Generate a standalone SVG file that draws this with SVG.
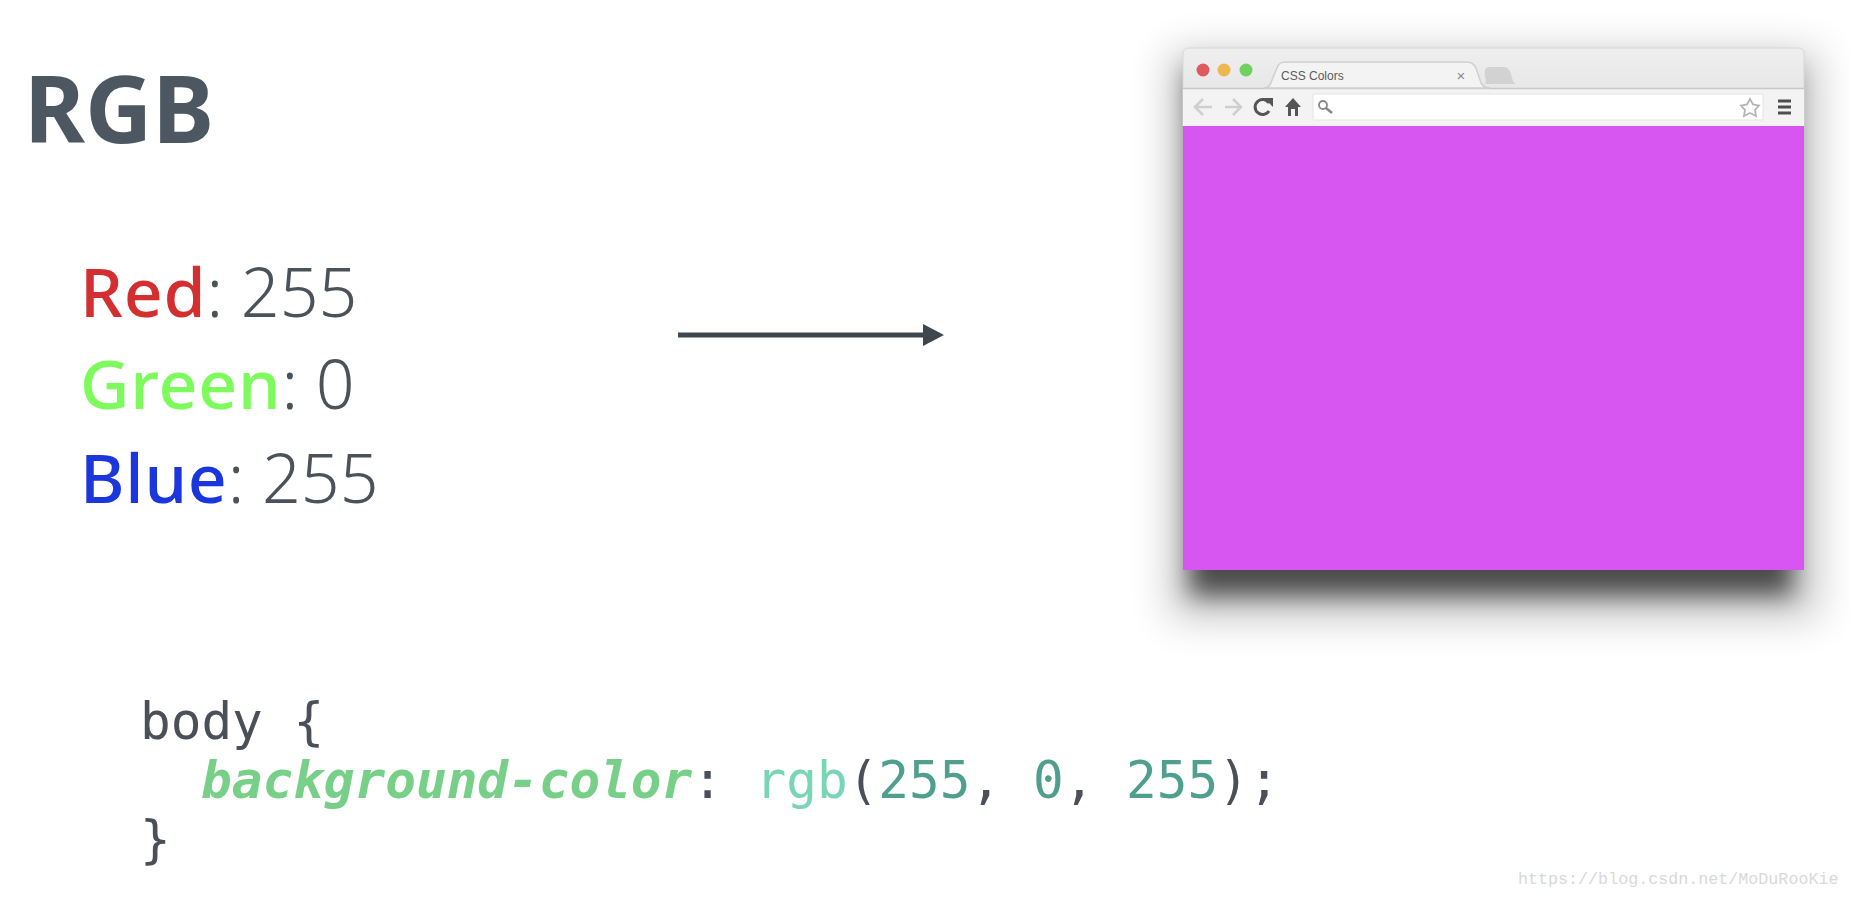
<svg xmlns="http://www.w3.org/2000/svg" width="1850" height="898" viewBox="0 0 1850 898">
<style>
.s{font-family:"Noto Sans","Liberation Sans",sans-serif}
.m{font-family:"DejaVu Sans Mono","Liberation Mono",monospace;font-size:51px}
.val{font-size:68px;font-weight:350;fill:#4c5259}
.lab{font-size:68px;font-weight:500;letter-spacing:.8px}
.dk{fill:#4a4f58}
.num{fill:#4f9f8f}
.ic{fill:none;stroke:#555;stroke-width:3}
.ig{fill:none;stroke:#cfcfcf;stroke-width:2.5}
</style>
<defs>
<filter id="b1" x="-20%" y="-20%" width="140%" height="140%"><feGaussianBlur stdDeviation="12"/></filter>
<filter id="b2" x="-20%" y="-20%" width="140%" height="140%"><feGaussianBlur stdDeviation="20"/></filter>
<linearGradient id="strip" x1="0" y1="0" x2="0" y2="1"><stop offset="0" stop-color="#efefef"/><stop offset="1" stop-color="#e0e0e0"/></linearGradient>
<marker id="ah" markerUnits="userSpaceOnUse" markerWidth="21" markerHeight="22" refX="0" refY="11" orient="auto"><path d="M0 0L21 11L0 22Z" fill="#3f474e"/></marker>
</defs>
<rect width="1850" height="898" fill="#fff"/>
<g id="title"><text class="s" x="24" y="143" font-size="93" font-weight="700" fill="#4d5761">RGB</text></g>
<g id="values">
<text class="s val" x="80" y="317"><tspan class="lab" fill="#d32f30">Red</tspan>: 255</text>
<text class="s val" x="80" y="409"><tspan class="lab" fill="#7dfb5c">Green</tspan>: 0</text>
<text class="s val" x="80" y="503"><tspan class="lab" fill="#1a36dc">Blue</tspan>: 255</text>
</g>
<g id="connectors"><line x1="678" y1="335" x2="923" y2="335" stroke="#3f474e" stroke-width="5" marker-end="url(#ah)"/></g>
<g id="browser">
<rect x="1170" y="52" width="648" height="566" fill="#000" opacity=".22" filter="url(#b2)"/>
<rect x="1190" y="70" width="602" height="525" fill="#000" opacity=".62" filter="url(#b1)"/>
<path d="M1183 126V54q0-6 6-6H1798q6 0 6 6V126Z" fill="url(#strip)" stroke="#d8d8d8"/>
<rect x="1183" y="89" width="621" height="37" fill="#f3f3f3"/>
<line x1="1183" y1="88.500" x2="1804" y2="88.500" stroke="#c8c8c8" stroke-width="1.500"/>
<circle cx="1203" cy="70" r="6.500" fill="#dd5a5e"/>
<circle cx="1224" cy="70" r="6.500" fill="#eeb84f"/>
<circle cx="1246" cy="70" r="6.500" fill="#6fd25c"/>
<path d="M1264 88Q1270 88 1272 80L1277 68Q1279 62 1285 62H1467Q1473 62 1476 68L1480 80Q1482 88 1490 88Z" fill="#f3f3f3" stroke="#cfcfcf" stroke-width="1.500"/>
<path d="M1484 84Q1487 84 1485 76Q1483 67 1490 67H1504Q1509 67 1511 74Q1513 84 1516 84Z" fill="#d2d2d2"/>
<text x="1281" y="80" font-family="Liberation Sans,sans-serif" font-size="12" fill="#5a5a5a">CSS Colors</text>
<text x="1461" y="81" text-anchor="middle" font-family="Liberation Sans,sans-serif" font-size="15" fill="#8a8a8a">×</text>
<path class="ig" d="M1212 107H1195M1203 99L1195 107L1203 115"/>
<path class="ig" d="M1225 107H1241M1233 99L1241 107L1233 115"/>
<path class="ic" d="M1269 103A7.500 7.500 0 1 0 1269 111"/>
<path d="M1264 98H1273V107Z" fill="#555"/>
<path d="M1285 107L1293 98L1301 107H1298V116H1295V109H1291V116H1288V107Z" fill="#555"/>
<rect x="1313" y="94" width="450" height="26" rx="1" fill="#fff" stroke="#e3e3e3"/>
<circle cx="1323" cy="105" r="4" fill="none" stroke="#888" stroke-width="1.800"/>
<line x1="1326" y1="108" x2="1332" y2="113" stroke="#888" stroke-width="2.500"/>
<path d="M1750 99L1753 104.500L1759 105.500L1755 110L1756 116L1750 113L1744 116L1745 110L1741 105.500L1747 104.500Z" fill="#fff" stroke="#b5b5b5" stroke-width="1.800"/>
<path d="M1778 101H1791M1778 107H1791M1778 113H1791" stroke="#4e4e4e" stroke-width="3" fill="none"/>
<rect x="1183" y="126" width="621" height="444" fill="#d755f0"/>
</g>
<g id="code">
<text class="m dk" x="140" y="739">body {</text>
<text class="m" x="201" y="798"><tspan font-weight="700" font-style="italic" fill="#78d088">background-color</tspan><tspan class="dk">:</tspan><tspan x="755.500" fill="#78d6b4">rgb</tspan><tspan class="dk">(</tspan><tspan class="num">255</tspan><tspan class="dk">,</tspan><tspan class="num" x="1033">0</tspan><tspan class="dk">,</tspan><tspan class="num" x="1126">255</tspan><tspan class="dk">);</tspan></text>
<text class="m dk" x="140" y="857">}</text>
</g>
<g id="watermark"><text x="1518" y="884" font-family="Liberation Mono,monospace" font-size="16.700" fill="#d9d9d9">https://blog.csdn.net/MoDuRooKie</text></g>
</svg>
